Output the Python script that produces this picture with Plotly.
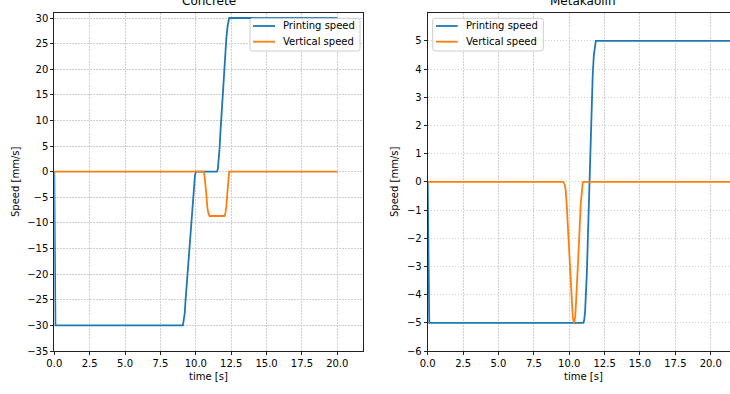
import plotly.graph_objects as go

# ---------------- data ----------------
conc_t_print = [0, 0.08, 9.09, 9.15, 9.22, 9.28, 9.35, 9.42, 9.54, 9.66, 9.80, 9.88, 9.94, 10.0,
                11.5, 11.56, 11.62, 11.68, 11.76, 11.84, 11.92, 12.0, 12.08, 12.16, 12.24, 12.3, 12.36, 20.0]
conc_v_print = [0, -30, -30, -29.2, -27.6, -25, -22.5, -20, -15, -10, -5, -2.5, -0.8, 0,
                0, 0.5, 2, 4.5, 8.5, 12.5, 16, 19.5, 23, 26, 28.3, 29.5, 30, 30]
conc_t_vert = [0, 10.55, 10.6, 10.65, 10.74, 10.81, 10.88, 10.98, 12.04, 12.1, 12.16, 12.23, 12.28, 12.32, 12.36, 20.0]
conc_v_vert = [0, 0, -0.4, -1.6, -4.2, -6.8, -8.0, -8.65, -8.65, -8.0, -6.8, -4.2, -1.6, -0.4, 0, 0]

meta_t_print = [0, 0.11, 11.0, 11.06, 11.12, 11.18, 11.24, 11.3, 11.36, 11.42, 11.5, 11.58, 11.66, 11.74,
                11.81, 11.88, 22.0]
meta_v_print = [0, -5, -5, -4.9, -4.6, -4.1, -3.3, -2.3, -1.2, 0, 1.4, 2.7, 3.8, 4.5, 4.85, 5, 5]
meta_t_vert = [0, 9.58, 9.68, 9.75, 9.82, 9.94, 10.05, 10.17, 10.25, 10.34, 10.42, 10.48, 10.55, 10.62,
               10.71, 10.81, 10.88, 10.95, 11.0, 22.0]
meta_v_vert = [0, 0, -0.1, -0.3, -0.8, -1.95, -3.1, -4.3, -4.8, -5.0, -4.8, -4.3, -3.7, -3.1,
               -1.95, -0.8, -0.3, -0.05, 0, 0]

titles = ["Concrete", "Metakaolin"]
series_names = ["Printing speed", "Vertical speed"]
colors = ["#1f77b4", "#ff7f0e"]

W, H = 730, 394


def px(x):
    return x / W


def py(y):
    return 1 - y / H


fig = go.Figure()
fig.add_trace(go.Scatter(x=conc_t_print, y=conc_v_print, mode="lines", name=series_names[0],
                         line=dict(color=colors[0], width=1.8), xaxis="x", yaxis="y", showlegend=False))
fig.add_trace(go.Scatter(x=conc_t_vert, y=conc_v_vert, mode="lines", name=series_names[1],
                         line=dict(color=colors[1], width=1.8), xaxis="x", yaxis="y", showlegend=False))
fig.add_trace(go.Scatter(x=meta_t_print, y=meta_v_print, mode="lines", name=series_names[0],
                         line=dict(color=colors[0], width=1.8), xaxis="x2", yaxis="y2", showlegend=False))
fig.add_trace(go.Scatter(x=meta_t_vert, y=meta_v_vert, mode="lines", name=series_names[1],
                         line=dict(color=colors[1], width=1.8), xaxis="x2", yaxis="y2", showlegend=False))

font = dict(family="DejaVu Sans", size=10, color="#000")
axcommon = dict(showline=True, mirror=True, linecolor="#222", linewidth=1,
                ticks="outside", ticklen=3, tickwidth=1, tickcolor="#222",
                showgrid=True, gridcolor="#cfcfcf", gridwidth=0.8, griddash="1.5px,1.5px",
                zeroline=False, tickfont=font, automargin=False)

ydom = [py(351), py(13.3)]
fig.update_layout(
    width=W, height=H, margin=dict(l=0, r=0, t=0, b=0),
    plot_bgcolor="white", paper_bgcolor="white", font=font,
    xaxis=dict(domain=[px(54.3), px(363.3)], range=[0, 21.84], tickvals=[0, 2.5, 5, 7.5, 10, 12.5, 15, 17.5, 20],
               tickformat=".1f", anchor="y", **axcommon),
    yaxis=dict(domain=ydom, range=[-35, 30.92], tickvals=list(range(-35, 31, 5)), anchor="x", **axcommon),
    xaxis2=dict(domain=[px(427.7), 1.0], range=[0, 21.36], tickvals=[0, 2.5, 5, 7.5, 10, 12.5, 15, 17.5, 20],
                tickformat=".1f", anchor="y2", **axcommon),
    yaxis2=dict(domain=ydom, range=[-6, 5.98], tickvals=list(range(-6, 6)), anchor="x2", **axcommon),
)

ann = []
# titles
for cx, t in [(208.8, titles[0]), (583, titles[1])]:
    ann.append(dict(x=px(cx), y=py(9.5), xref="paper", yref="paper", text=t, showarrow=False,
                    xanchor="center", yanchor="bottom", font=dict(family="DejaVu Sans", size=12, color="#000")))
# axis labels
for cx in [208.8, 583]:
    ann.append(dict(x=px(cx), y=py(376), xref="paper", yref="paper", text="time [s]", showarrow=False,
                    xanchor="center", yanchor="middle", font=font))
for cx in [16, 395]:
    ann.append(dict(x=px(cx), y=py(182), xref="paper", yref="paper", text="Speed [mm/s]", showarrow=False,
                    xanchor="center", yanchor="middle", textangle=-90, font=font))

shapes = []


def legend(x0, x1, y0, y1, lx0, lx1, tx):
    r = 2.5
    path = (f"M {px(x0 + r)} {py(y0)} L {px(x1 - r)} {py(y0)} Q {px(x1)} {py(y0)} {px(x1)} {py(y0 + r)} "
            f"L {px(x1)} {py(y1 - r)} Q {px(x1)} {py(y1)} {px(x1 - r)} {py(y1)} "
            f"L {px(x0 + r)} {py(y1)} Q {px(x0)} {py(y1)} {px(x0)} {py(y1 - r)} "
            f"L {px(x0)} {py(y0 + r)} Q {px(x0)} {py(y0)} {px(x0 + r)} {py(y0)} Z")
    shapes.append(dict(type="path", path=path, xref="paper", yref="paper",
                       fillcolor="rgba(255,255,255,0.8)", line=dict(color="#cccccc", width=1)))
    for i, yy in enumerate([26, 41.7]):
        shapes.append(dict(type="line", xref="paper", yref="paper", x0=px(lx0), x1=px(lx1), y0=py(yy), y1=py(yy),
                           line=dict(color=colors[i], width=1.8)))
        ann.append(dict(x=px(tx), y=py(yy), xref="paper", yref="paper", text=series_names[i], showarrow=False,
                        xanchor="left", yanchor="middle", xshift=-2, font=font))


legend(250, 360, 18.3, 51, 253, 275, 282.7)
legend(432.7, 543.3, 18.3, 51, 436, 457.7, 466)

fig.update_layout(annotations=ann, shapes=shapes)
fig.write_html("out.html")
